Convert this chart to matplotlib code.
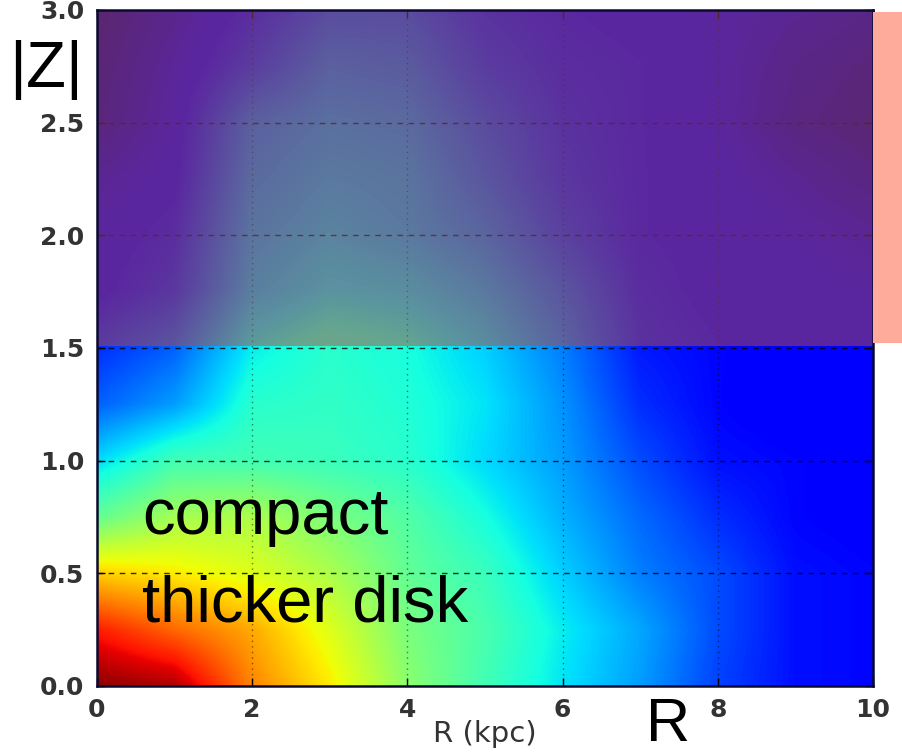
import numpy as np
import matplotlib
matplotlib.use('Agg')
from matplotlib import pyplot as plt
from matplotlib.patches import Rectangle

# grid nodes (kpc)
r_kpc = [0, 1, 2, 3, 4, 5, 6, 7, 8, 9, 10]
z_kpc = [0.0, 0.25, 0.5, 0.75, 1.0, 1.25, 1.5, 1.75, 2.0, 2.25, 2.5, 2.75, 3.0]

# normalised density on the (z, R) nodes, bottom row first
density = [
    [0.99, 0.96, 0.77, 0.66, 0.52, 0.43, 0.35, 0.28, 0.19, 0.14, 0.13],
    [0.88, 0.80, 0.73, 0.62, 0.50, 0.44, 0.36, 0.29, 0.20, 0.14, 0.13],
    [0.69, 0.66, 0.62, 0.56, 0.47, 0.42, 0.33, 0.25, 0.20, 0.14, 0.13],
    [0.47, 0.55, 0.56, 0.50, 0.45, 0.38, 0.30, 0.23, 0.17, 0.13, 0.12],
    [0.34, 0.43, 0.43, 0.42, 0.40, 0.34, 0.28, 0.20, 0.14, 0.13, 0.12],
    [0.22, 0.28, 0.40, 0.41, 0.39, 0.35, 0.27, 0.17, 0.13, 0.11, 0.12],
    [0.17, 0.22, 0.36, 0.40, 0.38, 0.33, 0.25, 0.15, 0.13, 0.12, 0.12],
    [0.12, 0.16, 0.30, 0.34, 0.33, 0.29, 0.22, 0.14, 0.12, 0.12, 0.11],
    [0.11, 0.14, 0.28, 0.31, 0.29, 0.25, 0.18, 0.13, 0.12, 0.11, 0.09],
    [0.09, 0.12, 0.26, 0.29, 0.28, 0.22, 0.16, 0.13, 0.12, 0.09, 0.06],
    [0.05, 0.11, 0.24, 0.27, 0.26, 0.20, 0.15, 0.13, 0.11, 0.06, 0.04],
    [0.04, 0.10, 0.17, 0.24, 0.23, 0.17, 0.14, 0.13, 0.11, 0.07, 0.05],
    [0.03, 0.08, 0.14, 0.20, 0.20, 0.15, 0.13, 0.12, 0.11, 0.09, 0.07],
]

x_ticks = [0, 2, 4, 6, 8, 10]
y_ticks = [0.0, 0.5, 1.0, 1.5, 2.0, 2.5, 3.0]
z_cut = 1.5

fig = plt.figure(figsize=(9.02, 7.56), dpi=100)
ax = fig.add_axes([0.1075, 0.0926, 0.8603, 0.8942])

# nodes sit at pixel centres, so pad the extent by half a cell
dr = r_kpc[1] - r_kpc[0]
dz = z_kpc[1] - z_kpc[0]
ax.imshow(np.array(density), cmap='jet', vmin=0, vmax=1, origin='lower',
          interpolation='bilinear', aspect='auto', zorder=0,
          extent=[r_kpc[0] - dr / 2, r_kpc[-1] + dr / 2,
                  z_kpc[0] - dz / 2, z_kpc[-1] + dz / 2])
ax.set_xlim(0, 10)
ax.set_ylim(0, 3)

ax.set_xticks(x_ticks)
ax.set_yticks(y_ticks)
ax.set_xticklabels(['%d' % t for t in x_ticks])
ax.set_yticklabels(['%.1f' % t for t in y_ticks])
ax.tick_params(direction='in', top=True, right=True, length=6, width=1,
               labelsize=18, labelcolor='#333333', pad=9)
for lab in ax.get_xticklabels() + ax.get_yticklabels():
    lab.set_fontweight('bold')
ax.set_xlabel('R (kpc)', fontsize=21, color='#333333', labelpad=-2)
for s in ax.spines.values():
    s.set_linewidth(1.8)
    s.set_color('#0a0a30')

for y in y_ticks[1:-1]:
    ax.axhline(y, color='black', lw=1, ls=(0, (4, 4)), alpha=0.8, zorder=1)
for x in x_ticks[1:-1]:
    ax.axvline(x, color='black', lw=1, ls=(0, (1, 3)), alpha=0.5, zorder=1)

# tint over |Z| > 1.5 kpc, with a tab sticking out past the right spine
ax.add_patch(Rectangle((0, z_cut + 0.01), 10, 3.0 - z_cut - 0.01,
                       facecolor=(0.71, 0.30, 0.25), edgecolor='none',
                       alpha=0.5, zorder=2))
x1 = ax.get_position().x1
fig.patches.append(Rectangle((x1, 0.546), 1 - x1, 0.438,
                             transform=fig.transFigure, facecolor='#ffab9b',
                             edgecolor='none', zorder=3))

ann = dict(family=['Liberation Sans', 'DejaVu Sans'], color='black')
fig.text(0.010, 0.885, '|Z|', fontsize=47, **ann)
ax.text(0.058, 0.225, 'compact', fontsize=47, transform=ax.transAxes, zorder=4, **ann)
ax.text(0.058, 0.095, 'thicker disk', fontsize=47, transform=ax.transAxes, zorder=4, **ann)
fig.text(0.716, 0.002, 'R', fontsize=44, va='bottom', **ann)

fig.savefig('out.png', dpi=100)
